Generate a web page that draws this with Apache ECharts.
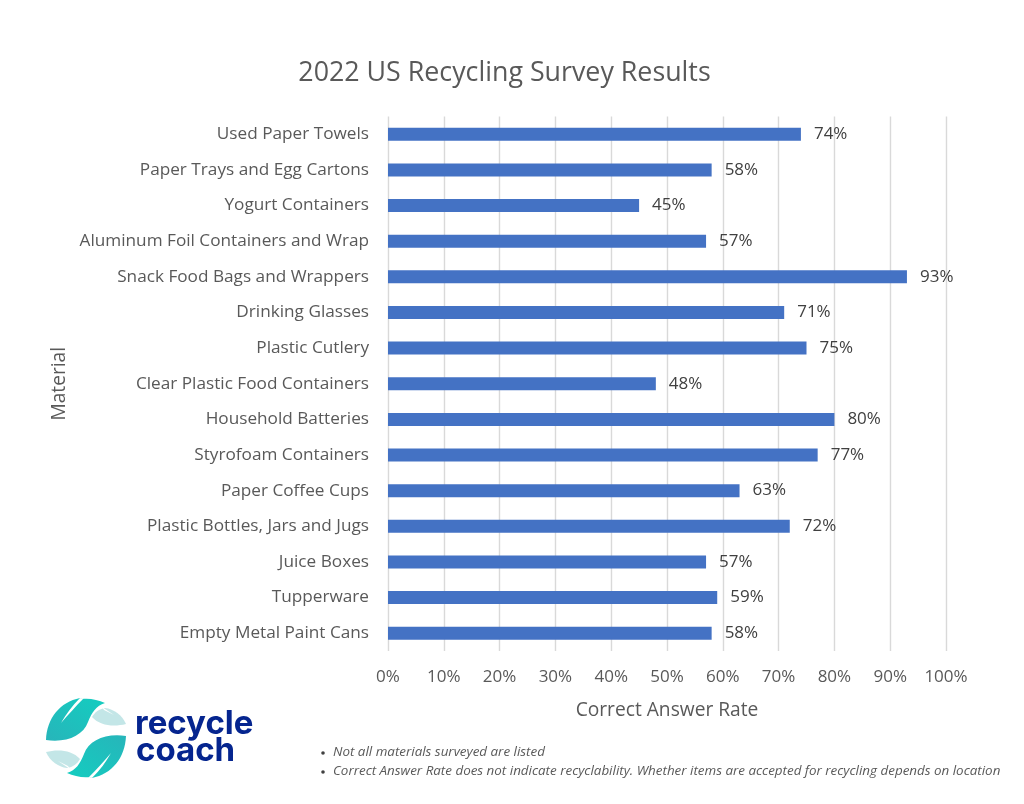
<!DOCTYPE html>
<html>
<head>
<meta charset="utf-8">
<style>
  html, body { margin: 0; padding: 0; background: #fff; }
  #chart { width: 1024px; height: 804px; }
</style>
<script src="https://cdn.jsdelivr.net/npm/echarts@6/dist/echarts.min.js"></script>
</head>
<body>
<div id="chart"></div>
<script>
const materials = [
  'Used Paper Towels', 'Paper Trays and Egg Cartons', 'Yogurt Containers',
  'Aluminum Foil Containers and Wrap', 'Snack Food Bags and Wrappers', 'Drinking Glasses',
  'Plastic Cutlery', 'Clear Plastic Food Containers', 'Household Batteries',
  'Styrofoam Containers', 'Paper Coffee Cups', 'Plastic Bottles, Jars and Jugs',
  'Juice Boxes', 'Tupperware', 'Empty Metal Paint Cans'
]
const correctRate = [74, 58, 45, 57, 93, 71, 75, 48, 80, 77, 63, 72, 57, 59, 58]
const notes = [
  'Not all materials surveyed are listed',
  'Correct Answer Rate does not indicate recyclability. Whether items are accepted for recycling depends on location'
]

const font = '"Open Sans", "Noto Sans", sans-serif'

// logo leaves, the text next to them stays real text
const half = `<path d="M0 42C1 20 14 4 34 0L36 1C44 0 52 2 59 5C50 8 46 14 42 24C37 38 20 45 0 42Z" fill="url(#g)"/>
<path d="M34 0C26 8 20 16 15 25C22 17 30 8 37 1Z" fill="#fff"/>
<path d="M46 19C49 14 53 11 59 10C68 11 76 17 80 26C68 29 54 28 46 19Z" fill="#c3e6e7"/>
<path d="M56 9L68 17L58 12Z" fill="#fff"/>`
const leafSvg = `<svg xmlns="http://www.w3.org/2000/svg" width="320" height="320" viewBox="0 0 80 80">
<defs><linearGradient id="g" x1="0" y1="1" x2="1" y2="0"><stop offset="0" stop-color="#27b5ba"/><stop offset="1" stop-color="#14cdc0"/></linearGradient></defs>
<g>${half}</g><g transform="rotate(180 40 40)">${half}</g></svg>`

const chart = echarts.init(document.getElementById('chart'))
chart.setOption({
  backgroundColor: '#fff',
  animation: false,
  title: {
    text: '2022 US Recycling Survey Results',
    left: 499.5,
    top: 55,
    textAlign: 'center',
    textStyle: { fontFamily: font, fontSize: 26.8, fontWeight: 'normal', color: '#595959' }
  },
  grid: { left: 388, right: 78, top: 116.5, height: 534.5 },
  xAxis: {
    type: 'value',
    min: 0,
    max: 100,
    interval: 10,
    name: 'Correct Answer Rate',
    nameLocation: 'middle',
    nameGap: 50,
    nameTextStyle: { fontFamily: font, fontSize: 19.2, color: '#595959' },
    axisLine: { show: false },
    axisTick: { show: false },
    axisLabel: { formatter: '{value}%', margin: 18, fontFamily: font, fontSize: 17, color: '#595959' },
    splitLine: { show: true, lineStyle: { color: '#d9d9d9', width: 1.4 } }
  },
  yAxis: {
    type: 'category',
    inverse: true,
    data: materials,
    name: 'Material',
    nameLocation: 'middle',
    nameGap: 316,
    nameTextStyle: { fontFamily: font, fontSize: 19.2, color: '#595959' },
    axisLine: { show: false },
    axisTick: { show: false },
    axisLabel: { margin: 19, fontFamily: font, fontSize: 17.2, color: '#595959', padding: [2, 0, 0, 0] }
  },
  series: [{
    type: 'bar',
    data: correctRate,
    barWidth: 13,
    itemStyle: { color: '#4472c4' },
    label: {
      show: true,
      position: 'right',
      distance: 13,
      formatter: '{c}%',
      fontFamily: font,
      fontSize: 17,
      color: '#404040',
      padding: [5, 0, 0, 0]
    }
  }],
  graphic: [
    { type: 'image', left: 46, top: 698, style: { image: 'data:image/svg+xml;charset=utf-8,' + encodeURIComponent(leafSvg), width: 80, height: 80 } },
    { type: 'text', left: 135, top: 708, style: { text: 'recycle', fontFamily: 'Inter, sans-serif', fontSize: 33, fontWeight: 700, fill: '#05258f' } },
    { type: 'text', left: 136, top: 735, style: { text: 'coach', fontFamily: 'Inter, sans-serif', fontSize: 33, fontWeight: 700, fill: '#05258f' } },
    { type: 'circle', shape: { cx: 323, cy: 753, r: 1.8 }, style: { fill: '#404040' } },
    { type: 'circle', shape: { cx: 323, cy: 772, r: 1.8 }, style: { fill: '#404040' } },
    { type: 'text', left: 333, top: 746, style: { text: notes[0], fontFamily: font, fontStyle: 'italic', fontSize: 13.4, fill: '#595959' } },
    { type: 'text', left: 333, top: 765, style: { text: notes[1], fontFamily: font, fontStyle: 'italic', fontSize: 13.4, fill: '#595959' } }
  ]
})
</script>
</body>
</html>
